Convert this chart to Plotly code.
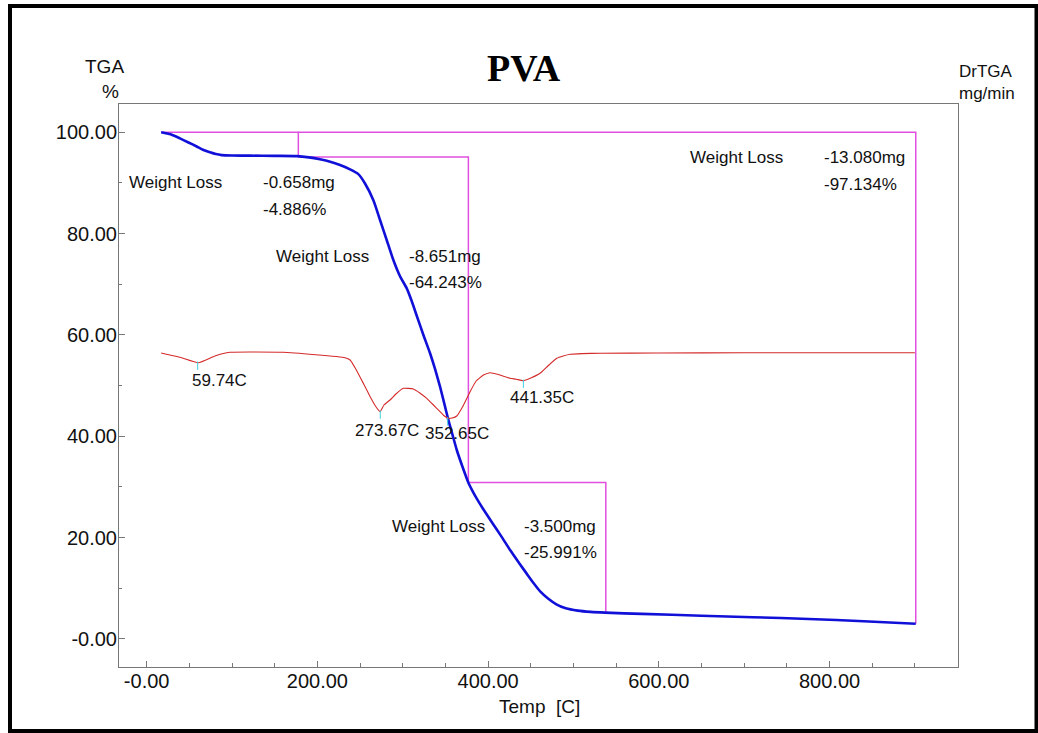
import plotly.graph_objects as go

# ---------------- data ----------------
# TGA curve: temperature [C] vs weight [%]
tga_temp = [17, 28, 39, 49, 58.6, 66, 74.2, 81, 87.9, 100, 121, 150, 175.8, 190, 203, 215,
            226.5, 238.3, 248, 255.8, 265.6, 273.4, 281.3, 289, 296.8, 304.7, 310.5, 316.4,
            324, 332, 338, 343.7, 348.5, 353.5, 358.5, 363.3, 370, 376.8, 381.5, 386.4,
            394.8, 405, 415.7, 426, 436.7, 445, 453.4, 461, 470.2, 480, 491, 505, 520, 537,
            580, 650, 710, 775.7, 840, 901]
tga_weight = [100.0, 99.6, 98.8, 98.0, 97.2, 96.55, 96.05, 95.7, 95.5, 95.42, 95.4, 95.35,
              95.3, 95.05, 94.67, 94.2, 93.55, 92.7, 91.75, 89.9, 86.6, 82.7, 78.7, 74.8,
              71.6, 69.2, 66.7, 63.8, 60.1, 56.4, 53.2, 49.8, 46.6, 43.2, 40.2, 37.3, 34.0,
              30.9, 29.3, 27.8, 25.5, 22.9, 20.2, 17.5, 14.9, 12.95, 11.0, 9.4, 8.0, 6.85,
              6.06, 5.6, 5.35, 5.2, 4.95, 4.6, 4.3, 3.95, 3.5, 3.0]

# DrTGA curve: temperature [C] vs rate [mg/min]
dr_temp = [17, 40, 60.5, 80, 97.6, 159.7, 232.4, 238.3, 245, 253.8, 262, 268, 273.4, 278,
           285.1, 292, 300.7, 312.4, 320, 328.1, 336, 343.7, 348, 353.5, 358, 363.3, 370,
           378.9, 386, 394.5, 402.3, 412, 425.8, 433, 441, 450, 460.9, 470, 480.5, 488,
           496.1, 510, 531.3, 600, 700, 800, 900]
dr_rate = [0.0, -0.045, -0.097, -0.03, 0.007, 0.007, -0.047, -0.07, -0.16, -0.303, -0.44,
           -0.53, -0.587, -0.52, -0.47, -0.41, -0.353, -0.36, -0.40, -0.453, -0.52, -0.587,
           -0.625, -0.653, -0.65, -0.63, -0.54, -0.387, -0.28, -0.22, -0.197, -0.215,
           -0.253, -0.262, -0.277, -0.25, -0.203, -0.13, -0.053, -0.03, -0.013, -0.006,
           -0.003, 0.0, 0.003, 0.002, 0.003]

# DrTGA peaks
peak_temp = [59.74, 273.67, 352.65, 441.35]
peak_rate = [-0.097, -0.587, -0.653, -0.277]
peak_labels = ["59.74C", "273.67C", "352.65C", "441.35C"]

# weight-loss step boundaries (magenta analysis lines)
step_temp = [17, 177.7, 376.9, 537.9, 901]
step_weight = [100.0, 95.11, 30.87, 5.0, 3.0]
step_mg = ["-0.658mg", "-8.651mg", "-3.500mg", "-13.080mg"]
step_pct = ["-4.886%", "-64.243%", "-25.991%", "-97.134%"]

# axis ticks
x_tickvals = [0, 200, 400, 600, 800]
x_ticktext = ["-0.00", "200.00", "400.00", "600.00", "800.00"]
y_tickvals = [0, 20, 40, 60, 80, 100]
y_ticktext = ["-0.00", "20.00", "40.00", "60.00", "80.00", "100.00"]

# ---------------- layout geometry ----------------
W, H = 1038, 733
L, R, T, B = 119, 958, 104, 667


def pxx(px):
    return (px - L) / (R - L)


def pxy(py):
    return (B - py) / (B - T)


MAGENTA = "#e050e0"
FONT = "Liberation Sans, Arial, sans-serif"

fig = go.Figure()

# magenta step lines
mx = [step_temp[0], step_temp[1], step_temp[1], None,
      step_temp[1], step_temp[2], step_temp[2], None,
      step_temp[2], step_temp[3], step_temp[3], None,
      step_temp[1], step_temp[4], step_temp[4]]
my = [step_weight[0], step_weight[0], step_weight[1], None,
      step_weight[1], step_weight[1], step_weight[2], None,
      step_weight[2], step_weight[2], step_weight[3], None,
      step_weight[0], step_weight[0], step_weight[4]]
fig.add_trace(go.Scatter(x=mx, y=my, mode="lines", line=dict(color=MAGENTA, width=1.5),
                         hoverinfo="skip", showlegend=False))

# DrTGA (secondary axis)
fig.add_trace(go.Scatter(x=dr_temp, y=dr_rate, yaxis="y2", mode="lines",
                         line=dict(color="#d42a2a", width=1.1, shape="spline", smoothing=0.4),
                         showlegend=False, name="DrTGA"))
fig.add_trace(go.Scatter(x=peak_temp, y=[v - 0.03 for v in peak_rate], yaxis="y2", mode="markers",
                         marker=dict(symbol="line-ns", size=6, line=dict(color="#40d0e0", width=1)),
                         showlegend=False, hoverinfo="skip"))

# TGA
fig.add_trace(go.Scatter(x=tga_temp, y=tga_weight, mode="lines",
                         line=dict(color="#1010d8", width=2.6, shape="spline", smoothing=0.6),
                         showlegend=False, name="TGA"))

ann = []


def text(t, px, py, size=17, anchor="left", **kw):
    ann.append(dict(text=t, x=pxx(px), y=pxy(py), xref="paper", yref="paper",
                    xanchor=anchor, yanchor="middle", showarrow=False,
                    font=dict(family=kw.get("family", FONT), size=size, color=kw.get("color", "#111")),
                    borderpad=0))


# weight-loss labels
wl_pos = [(128, 182.3, 261.7, 209.3), (275, 256, 407.7, 282.7),
          (390.7, 526, 522.9, 552.7), (689.3, 157.3, 822.7, 184)]
for (lx, ly, vx, vy2), mg, pct in zip(wl_pos, step_mg, step_pct):
    text("Weight Loss", lx, ly)
    text(mg, vx, ly)
    text(pct, vx, vy2)

# peak labels
pk_pos = [(190.7, 380.7), (354.3, 430), (424, 433), (509.3, 397.7)]
for (px, py), lab in zip(pk_pos, peak_labels):
    text(lab, px, py)

# axis labels / title
text("TGA", 104.5, 66, size=19, anchor="center")
text("%", 110, 92, size=19, anchor="center")
text("DrTGA", 958, 71.5, size=17)
text("mg/min", 958, 94, size=17)
text("Temp  [C]", 539, 706.5, size=19, anchor="center")
ann.append(dict(text="<b>PVA</b>", x=pxx(524), y=pxy(68), xref="paper", yref="paper",
                xanchor="center", yanchor="middle", showarrow=False,
                font=dict(family="Liberation Serif, Times New Roman, serif", size=38, color="#000")))

# outer black frame
shapes = [dict(type="rect", xref="paper", yref="paper",
               x0=pxx(10), x1=pxx(1036.5), y0=pxy(731), y1=pxy(6),
               line=dict(color="#000", width=4), fillcolor="rgba(0,0,0,0)", layer="above")]

fig.update_layout(
    width=W, height=H,
    margin=dict(l=L, r=W - R, t=T, b=H - B, pad=0),
    paper_bgcolor="white", plot_bgcolor="white",
    annotations=ann, shapes=shapes,
    showlegend=False,
    xaxis=dict(range=[-32.4, 950.5], tickvals=x_tickvals, ticktext=x_ticktext,
               ticks="inside", ticklen=6, tickcolor="#777", tickwidth=1,
               minor=dict(dtick=50, ticks="inside",
                          ticklen=4, tickcolor="#777", tickwidth=1, showgrid=False),
               showgrid=False, zeroline=False, showline=True, linecolor="#777",
               linewidth=1, mirror=True, ticklabelstandoff=-4,
               tickfont=dict(family=FONT, size=20, color="#111")),
    yaxis=dict(range=[-5.53, 105.59], tickvals=y_tickvals, ticktext=y_ticktext,
               ticks="inside", ticklen=6, tickcolor="#777", tickwidth=1,
               minor=dict(dtick=10, ticks="inside", ticklen=3, tickcolor="#777",
                          tickwidth=1, showgrid=False),
               showgrid=False, zeroline=False, showline=True, linecolor="#777",
               linewidth=1, mirror=True, ticklabelstandoff=-3,
               tickfont=dict(family=FONT, size=20, color="#111")),
    yaxis2=dict(range=[-3.14, 2.49], overlaying="y", side="right", visible=False,
                showgrid=False, zeroline=False),
)

fig.write_html("out.html", config={"displayModeBar": False},
               post_script="document.body.style.margin='0px';")
